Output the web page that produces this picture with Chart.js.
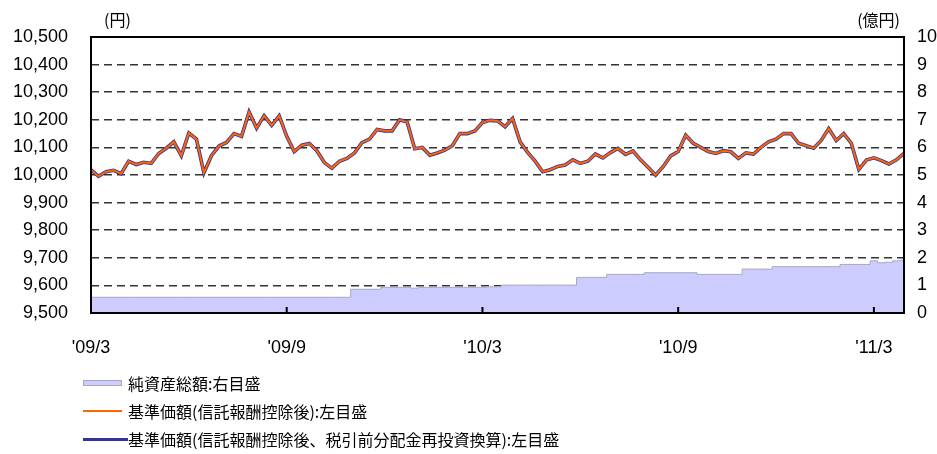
<!DOCTYPE html>
<html>
<head>
<meta charset="utf-8">
<title>基準価額・純資産総額の推移</title>
<script src="https://cdn.jsdelivr.net/npm/chart.js@4.4.0/dist/chart.umd.min.js"></script>
<style>
    body{margin:0;background:#fff;font-family:"Noto Sans CJK JP",sans-serif;}
    .wrap{position:relative;width:937px;height:454px;}
    #legend{position:absolute;left:83px;top:369px;font-size:16px;color:#000;}
    .item{height:28px;display:flex;align-items:center;white-space:nowrap;}
    .mark{box-sizing:border-box;margin-right:6px;}
</style>
</head>
<body>
<div class="wrap">
    <canvas id="myChart" width="937" height="454"></canvas>
    <div id="legend"></div>
</div>

<script>
// weekly samples, '09/3 - '11/3
const weeks = [
    '2009/3/2','2009/3/9','2009/3/16','2009/3/23','2009/3/30','2009/4/6','2009/4/13','2009/4/20','2009/4/27','2009/5/4',
    '2009/5/11','2009/5/18','2009/5/25','2009/6/1','2009/6/8','2009/6/15','2009/6/22','2009/6/29','2009/7/6','2009/7/13',
    '2009/7/20','2009/7/27','2009/8/3','2009/8/10','2009/8/17','2009/8/24','2009/8/31','2009/9/7','2009/9/14','2009/9/21',
    '2009/9/28','2009/10/5','2009/10/12','2009/10/19','2009/10/26','2009/11/2','2009/11/9','2009/11/16','2009/11/23','2009/11/30',
    '2009/12/7','2009/12/14','2009/12/21','2009/12/28','2010/1/4','2010/1/11','2010/1/18','2010/1/25','2010/2/1','2010/2/8',
    '2010/2/15','2010/2/22','2010/3/1','2010/3/8','2010/3/15','2010/3/22','2010/3/29','2010/4/5','2010/4/12','2010/4/19',
    '2010/4/26','2010/5/3','2010/5/10','2010/5/17','2010/5/24','2010/5/31','2010/6/7','2010/6/14','2010/6/21','2010/6/28',
    '2010/7/5','2010/7/12','2010/7/19','2010/7/26','2010/8/2','2010/8/9','2010/8/16','2010/8/23','2010/8/30','2010/9/6',
    '2010/9/13','2010/9/20','2010/9/27','2010/10/4','2010/10/11','2010/10/18','2010/10/25','2010/11/1','2010/11/8','2010/11/15',
    '2010/11/22','2010/11/29','2010/12/6','2010/12/13','2010/12/20','2010/12/27','2011/1/3','2011/1/10','2011/1/17','2011/1/24',
    '2011/1/31','2011/2/7','2011/2/14','2011/2/21','2011/2/28','2011/3/7','2011/3/14','2011/3/21','2011/3/28'
];

// x tick labels and the week they sit on
const tickWeeks = ['2009/3/2','2009/8/31','2010/3/1','2010/8/30','2011/2/28'];
const tickLabels = ["'09/3","'09/9","'10/3","'10/9","'11/3"];

// 基準価額 (円)
const nav = [
    10019, 9995, 10012, 10017, 10005, 10050, 10038, 10046, 10042, 10078,
    10097, 10120, 10070, 10152, 10130, 10008, 10070, 10105, 10118, 10150,
    10140, 10228, 10170, 10215, 10180, 10214, 10140, 10085, 10108, 10114,
    10088, 10045, 10025, 10050, 10060, 10080, 10117, 10130, 10165, 10160,
    10160, 10200, 10192, 10095, 10100, 10072, 10080, 10090, 10106, 10150,
    10150, 10160, 10190, 10198, 10196, 10175, 10205, 10120, 10082, 10050,
    10012, 10019, 10031, 10036, 10055, 10042, 10050, 10076, 10062, 10081,
    10096, 10075, 10087, 10055, 10028, 10000, 10030, 10069, 10085, 10144,
    10115, 10100, 10085, 10078, 10088, 10084, 10060, 10080, 10076, 10100,
    10120, 10130, 10150, 10150, 10115, 10106, 10097, 10125, 10168, 10125,
    10150, 10115, 10020, 10054, 10062, 10052, 10040, 10055, 10078
];

// 基準価額 (分配金再投資換算) - no distributions, same path
const navReinvested = [
    10019, 9995, 10012, 10017, 10005, 10050, 10038, 10046, 10042, 10078,
    10097, 10120, 10070, 10152, 10130, 10008, 10070, 10105, 10118, 10150,
    10140, 10228, 10170, 10215, 10180, 10214, 10140, 10085, 10108, 10114,
    10088, 10045, 10025, 10050, 10060, 10080, 10117, 10130, 10165, 10160,
    10160, 10200, 10192, 10095, 10100, 10072, 10080, 10090, 10106, 10150,
    10150, 10160, 10190, 10198, 10196, 10175, 10205, 10120, 10082, 10050,
    10012, 10019, 10031, 10036, 10055, 10042, 10050, 10076, 10062, 10081,
    10096, 10075, 10087, 10055, 10028, 10000, 10030, 10069, 10085, 10144,
    10115, 10100, 10085, 10078, 10088, 10084, 10060, 10080, 10076, 10100,
    10120, 10130, 10150, 10150, 10115, 10106, 10097, 10125, 10168, 10125,
    10150, 10115, 10020, 10054, 10062, 10052, 10040, 10055, 10078
];

// 純資産総額 (億円)
const netAssets = [
    0.57, 0.57, 0.57, 0.57, 0.57, 0.57, 0.57, 0.57, 0.57, 0.57,
    0.57, 0.57, 0.57, 0.57, 0.57, 0.57, 0.57, 0.57, 0.57, 0.57,
    0.57, 0.57, 0.57, 0.57, 0.57, 0.57, 0.57, 0.57, 0.57, 0.57,
    0.57, 0.57, 0.57, 0.57, 0.57, 0.86, 0.86, 0.86, 0.86, 0.93,
    0.93, 0.93, 0.93, 0.90, 0.93, 0.93, 0.93, 0.93, 0.93, 0.93,
    0.93, 0.93, 0.93, 0.95, 0.95, 1.01, 1.01, 1.01, 1.01, 1.01,
    1.01, 1.01, 1.01, 1.01, 1.01, 1.29, 1.29, 1.29, 1.29, 1.40,
    1.40, 1.40, 1.40, 1.40, 1.46, 1.46, 1.46, 1.46, 1.46, 1.46,
    1.46, 1.40, 1.40, 1.40, 1.40, 1.40, 1.40, 1.59, 1.59, 1.59,
    1.59, 1.68, 1.68, 1.68, 1.68, 1.68, 1.68, 1.68, 1.68, 1.68,
    1.76, 1.76, 1.76, 1.76, 1.89, 1.82, 1.84, 1.89, 1.92
];

const seriesNames = [
    '純資産総額:右目盛',
    '基準価額(信託報酬控除後):左目盛',
    '基準価額(信託報酬控除後、税引前分配金再投資換算):左目盛'
];
const leftUnit = '(円)';
const rightUnit = '(億円)';

const tickFont = {family: '"Liberation Sans", Arial, sans-serif', size: 18};

// frame, inner x ticks and unit labels
const framePlugin = {
    id: 'frame',
    afterDatasetsDraw(chart) {
        const ctx = chart.ctx;
        const a = chart.chartArea;
        const xs = chart.scales.x;
        ctx.save();
        ctx.strokeStyle = '#000';
        ctx.lineWidth = 2;
        ctx.strokeRect(a.left, a.top, a.right - a.left, a.bottom - a.top);
        tickWeeks.forEach(function(w){
            const x = xs.getPixelForValue(weeks.indexOf(w));
            ctx.beginPath();
            ctx.moveTo(x, a.bottom);
            ctx.lineTo(x, a.bottom - 6);
            ctx.stroke();
        });
        ctx.fillStyle = '#000';
        ctx.font = '16px "Noto Sans CJK JP"';
        ctx.textBaseline = 'middle';
        ctx.textAlign = 'left';
        ctx.fillText(leftUnit, a.left + 13, 20);
        ctx.textAlign = 'right';
        ctx.fillText(rightUnit, a.right - 4, 20);
        ctx.restore();
    }
};

const config = {
    type: 'line',
    data: {
        labels: weeks,
        datasets: [{
            label: seriesNames[0],
            data: netAssets,
            yAxisID: 'y1',
            backgroundColor: '#ccccff',
            borderColor: '#a8a8b8',
            borderWidth: 1,
            fill: 'origin',
            stepped: 'middle',
            pointRadius: 0
        },
        {
            label: seriesNames[1],
            data: nav,
            yAxisID: 'y',
            borderColor: '#ff6600',
            borderWidth: 2,
            fill: false,
            pointRadius: 0
        },
        {
            label: seriesNames[2],
            data: navReinvested,
            yAxisID: 'y',
            borderColor: '#333399',
            borderWidth: 3.6,
            fill: false,
            pointRadius: 0
        }]
    },
    options: {
        animation: false,
        responsive: false,
        layout: {padding: {top: 37, left: 0, right: 0, bottom: 0}},
        plugins: {legend: {display: false}, tooltip: {enabled: false}},
        scales: {
            x: {
                offset: false,
                grid: {display: false},
                border: {display: false},
                ticks: {
                    autoSkip: false, maxRotation: 0, padding: 16, color: '#000', font: tickFont,
                    callback: function(v){
                        const k = tickWeeks.indexOf(weeks[v]);
                        return k >= 0 ? tickLabels[k] : '';
                    }
                },
                afterFit: function(s){ s.height = 141; }
            },
            y: {
                position: 'left',
                min: 9500, max: 10500,
                grid: {
                    drawTicks: false, lineWidth: 1.6,
                    color: function(c){
                        const v = c.tick && c.tick.value;
                        return (v === 9500 || v === 10500) ? 'rgba(0,0,0,0)' : '#333';
                    }
                },
                border: {display: false, dash: [8, 5]},
                ticks: {
                    stepSize: 100, padding: 23, color: '#000', font: tickFont,
                    callback: function(v){ return v.toLocaleString('en-US'); }
                },
                afterFit: function(s){ s.width = 91; }
            },
            y1: {
                position: 'right',
                min: 0, max: 10,
                grid: {display: false, drawTicks: false},
                border: {display: false},
                ticks: {stepSize: 1, padding: 13, color: '#000', font: tickFont},
                afterFit: function(s){ s.width = 33; }
            }
        }
    },
    plugins: [framePlugin]
};

const myChart = new Chart(document.getElementById('myChart'), config);

// legend, vertical list under the plot
const legend = document.getElementById('legend');
const marks = [
    'width:39px;height:6px;background:#ccccff;border:1px solid #a8a8b8;',
    'width:39px;height:2px;background:#ff6600;',
    'width:45px;height:3px;background:#333399;margin-right:0;'
];
seriesNames.forEach(function(name, i){
    const row = document.createElement('div');
    row.className = 'item';
    const m = document.createElement('span');
    m.className = 'mark';
    m.style.cssText += marks[i];
    const t = document.createElement('span');
    t.textContent = name;
    row.appendChild(m);
    row.appendChild(t);
    legend.appendChild(row);
});
</script>
</body>
</html>
